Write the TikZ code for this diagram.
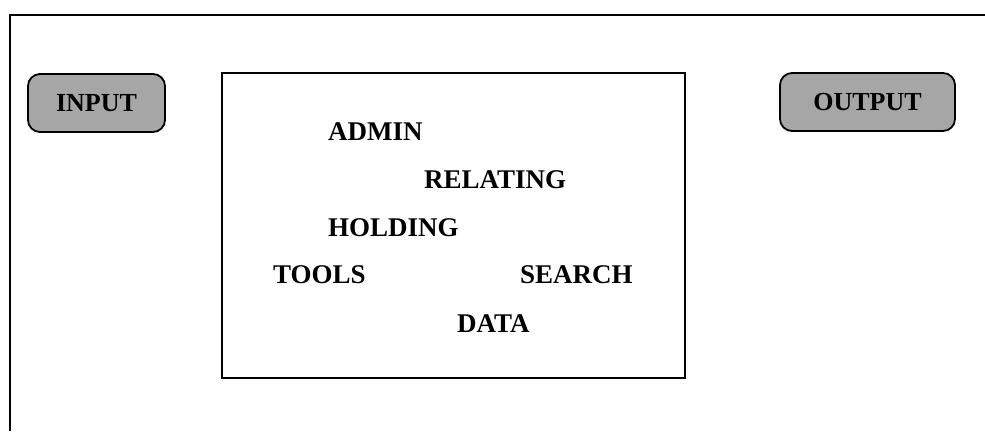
\documentclass[tikz,border=0pt]{standalone}
\usepackage{fontspec}
\setmainfont{Liberation Serif}
\begin{document}
\begin{tikzpicture}[x=1pt,y=-1pt,
  word/.style={font=\fontsize{27}{30}\selectfont\bfseries, anchor=base west, inner sep=0pt},
  pill/.style={draw=black, line width=1.8pt, rounded corners=12pt, fill=black!35,
    font=\fontsize{26}{28}\selectfont\bfseries, inner sep=0pt}]
\useasboundingbox (0,0) rectangle (985,431);
\coordinate (ftr) at (985,15);
\coordinate (ftl) at (10,15);
\coordinate (fbl) at (10,431);
\draw[line width=2pt] (ftr) -- (ftl) -- (fbl);
\node[draw, line width=1.6pt, minimum width=463pt, minimum height=305pt, inner sep=0pt] (main) at (453.5,225.5) {};
\node[pill, minimum width=137pt, minimum height=58pt] (input) at (96.5,103) {INPUT};
\node[pill, minimum width=175pt, minimum height=58pt] (output) at (867.5,102) {OUTPUT};
\node[word] (admin) at (328,140) {ADMIN};
\node[word] (relating) at (424,188) {RELATING};
\node[word] (holding) at (328,236) {HOLDING};
\node[word] (tools) at (273,283) {TOOLS};
\node[word] (search) at (520,283) {SEARCH};
\node[word] (data) at (457,332) {DATA};
\end{tikzpicture}
\end{document}
